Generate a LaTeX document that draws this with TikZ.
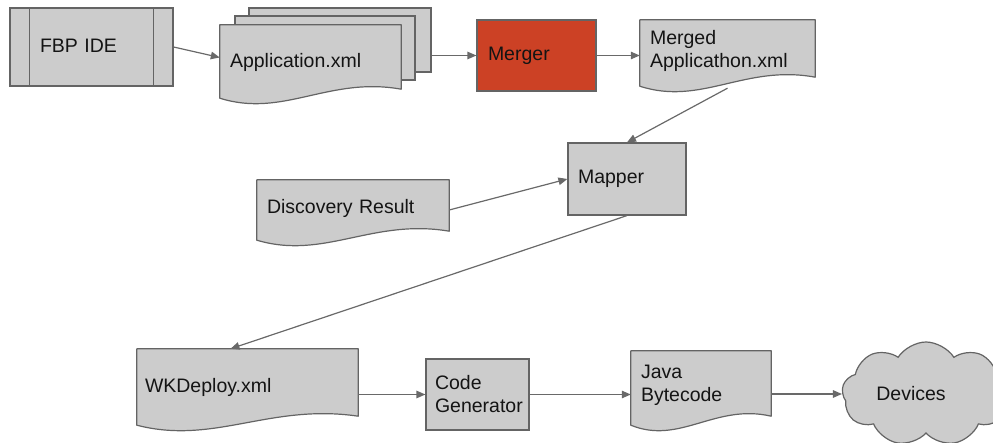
\documentclass[tikz,border=0pt]{standalone}
\usepackage{fontspec}
\setmainfont{Liberation Sans}
\usetikzlibrary{calc,arrows.meta,shapes.symbols}
\definecolor{boxfill}{RGB}{204,204,204}
\definecolor{boxline}{RGB}{100,100,100}
\definecolor{arrowc}{RGB}{105,105,105}
\definecolor{mergerred}{RGB}{204,65,37}
\definecolor{txt}{RGB}{20,20,20}
\tikzset{
  base/.style={rectangle, inner ysep=0pt, align=left, text=txt,
    font=\fontsize{19.5}{23}\selectfont},
  plainbox/.style={base, draw=boxline, fill=boxfill, line width=1.2pt},
  docbox/.style={base},
  docline/.style={draw=boxline, fill=boxfill, line width=1.2pt, line join=round},
  conn/.style={draw=arrowc, line width=1.2pt, -{Triangle[length=9pt,width=7.5pt]}},
}
\newcommand\docshape[1]{%
  \path[docline] (#1.south west) -- (#1.north west) -- (#1.north east) -- ([yshift=9pt]#1.south east)
    .. controls ($(#1.south west)!0.6!(#1.south east)+(0pt,22pt)$) and ($(#1.south west)!0.35!(#1.south east)+(0pt,-20pt)$) .. (#1.south west) -- cycle;}
\begin{document}
\begin{tikzpicture}[x=1pt,y=-1pt]
\useasboundingbox (0,0) rectangle (993,443);
% FBP IDE
\node[plainbox, minimum width=163pt, minimum height=78pt, text width=103pt, inner xsep=30pt] (fbp) at (91.5,47) {\raisebox{2pt}{FBP IDE}};
\draw[boxline, line width=1.2pt] ([xshift=20pt]fbp.north west) -- ([xshift=20pt]fbp.south west)
  ([xshift=-20pt]fbp.north east) -- ([xshift=-20pt]fbp.south east);
% Application stack
\node[plainbox, minimum width=182pt, minimum height=64pt] (appback) at (340,40) {};
\node[plainbox, minimum width=180pt, minimum height=64pt] (appmid) at (325,48) {};
\node[docbox, minimum width=181pt, minimum height=73pt, text width=161pt, inner xsep=10pt] (app) at (310.5,61.5) {};
\docshape{app}
\node[base, text width=161pt, inner xsep=10pt] at ([yshift=-1pt]app) {Application.xml};
% Merger
\node[plainbox, fill=mergerred, minimum width=119pt, minimum height=71pt, text width=97pt, inner xsep=11pt] (merger) at (536.5,55.5) {Merger};
% Merged
\node[docbox, minimum width=175pt, minimum height=66pt, text width=155pt, inner xsep=10pt] (merged) at (727.5,53) {};
\docshape{merged}
\node[base, text width=155pt, inner xsep=10pt] at ([yshift=2pt]merged) {Merged\\Applicathon.xml};
% Mapper
\node[plainbox, minimum width=118pt, minimum height=72pt, text width=98pt, inner xsep=10pt] (mapper) at (627,179) {Mapper};
% Discovery
\node[docbox, minimum width=192pt, minimum height=60pt, text width=172pt, inner xsep=10pt] (disc) at (353,210) {};
\docshape{disc}
\node[base, text width=172pt, inner xsep=10pt] at ([yshift=2pt]disc) {Discovery Result};
% WKDeploy
\node[docbox, minimum width=221pt, minimum height=76pt, text width=205pt, inner xsep=8pt] (wk) at (247.5,387) {};
\docshape{wk}
\node[base, text width=205pt, inner xsep=8pt] at (wk) {WKDeploy.xml};
% Code Generator
\node[plainbox, minimum width=103pt, minimum height=71pt, text width=85pt, inner xsep=9pt] (cg) at (477.5,394.5) {Code\\Generator};
% Java Bytecode
\node[docbox, minimum width=140pt, minimum height=74pt, text width=120pt, inner xsep=10pt] (java) at (701,388) {};
\docshape{java}
\node[base, text width=120pt, inner xsep=10pt] at ([yshift=3pt]java) {Java\\Bytecode};
% Devices
\node[cloud, cloud puffs=9, cloud puff arc=115, aspect=1.6, draw=boxline, fill=boxfill, line width=1.2pt,
  minimum width=168pt, minimum height=104pt, inner sep=0pt, text=txt, font=\fontsize{19.5}{23}\selectfont] (dev) at (926,394) {\hspace*{-30pt}Devices};
% connectors
\draw[conn] (fbp.east) -- ([yshift=4pt]app.west);
\draw[conn] (appback.east |- merger.west) -- (merger.west);
\draw[conn] (merger.east) -- (merger.east -| merged.west);
\draw[conn] ([yshift=-2pt]merged.south) -- (mapper.north);
\draw[conn] (disc.east) -- (mapper.west);
\draw[conn] (mapper.south) -- ([xshift=-17pt]wk.north);
\draw[conn] (wk.east |- cg.west) -- (cg.west);
\draw[conn] (cg.east) -- (cg.east -| java.west);
\draw[conn] (java.east |- dev.west) -- (dev.west);
\end{tikzpicture}
\end{document}
